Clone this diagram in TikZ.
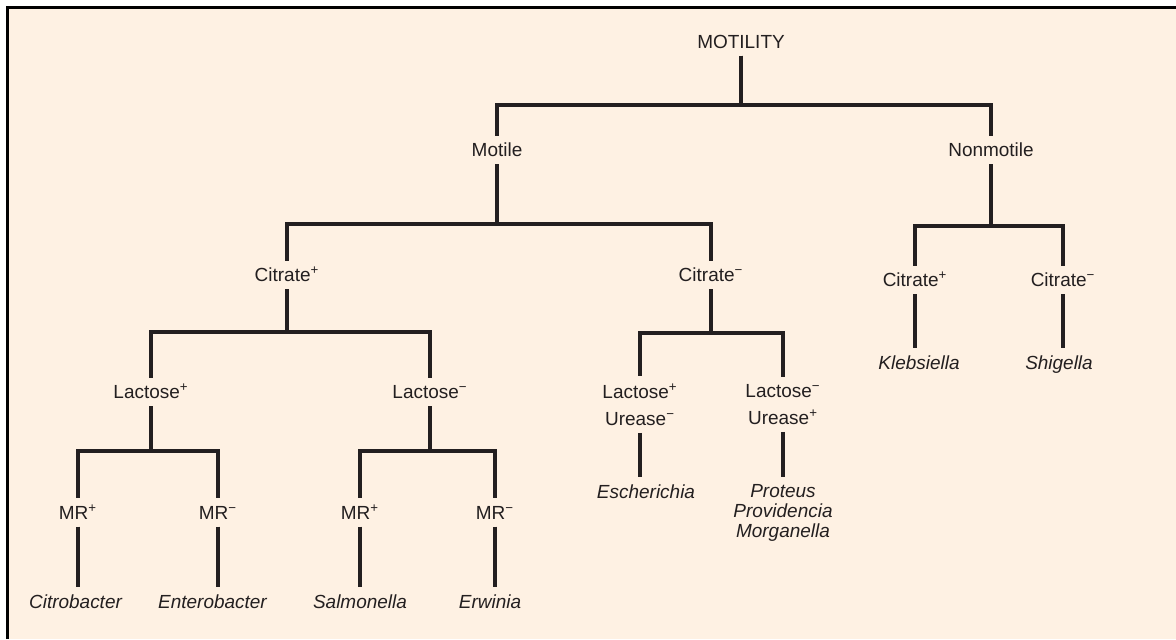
\documentclass[tikz,border=0pt]{standalone}
\usepackage{fontspec}
\setmainfont{Liberation Sans}
\usepackage{xcolor}
\usepackage{tikz}
\definecolor{keypaper}{RGB}{254,241,227}
\definecolor{keyink}{RGB}{35,31,32}
\newcommand{\sgnp}{\textsuperscript{+}}
\newcommand{\sgnm}{\textsuperscript{−}}
\tikzset{
  test/.style={font=\fontsize{10.8pt}{13pt}\selectfont, text=keyink,
    inner xsep=1pt, inner ysep=3.98pt, text height=7.7pt, text depth=0pt},
  genus/.style={test, font=\fontsize{10.8pt}{13pt}\selectfont\itshape},
  teststack/.style={font=\fontsize{10.8pt}{15.36pt}\selectfont, text=keyink,
    align=center, inner xsep=1pt, inner ysep=3.98pt},
  genusstack/.style={teststack, font=\fontsize{10.8pt}{11.38pt}\selectfont\itshape},
  branch/.style={draw=keyink, line width=1.9pt},
  frame/.style={draw=black, line width=1.7pt},
}

\begin{document}
\begin{tikzpicture}[x=0.02cm, y=-0.02cm]
  \useasboundingbox (0,0) rectangle (1176,639);
  \fill[keypaper] (7,7) rectangle (1176,639);
  \draw[frame] (7.5,639) -- (7.5,7.5) -- (1176,7.5);

  \node[test] (motility) at (741,41.5) {MOTILITY};
  \node[test] (motile) at (497,150) {Motile};
  \node[test] (nonmotile) at (991,150) {Nonmotile};
  \node[test] (citP) at (287,275) {Citrate\sgnp};
  \node[test] (citM) at (711,275) {Citrate\sgnm};
  \node[test] (nmCitP) at (915,280) {Citrate\sgnp};
  \node[test] (nmCitM) at (1063,280) {Citrate\sgnm};
  \node[test] (lacP) at (151,392) {Lactose\sgnp};
  \node[test] (lacM) at (430,392) {Lactose\sgnm};
  \node[teststack] (ureM) at (640,404.5) {Lactose\sgnp\\Urease\sgnm};
  \node[teststack] (ureP) at (783,404.5) {Lactose\sgnm\\Urease\sgnp};
  \node[test] (mrA) at (78,512.5) {MR\sgnp};
  \node[test] (mrB) at (218,512.5) {MR\sgnm};
  \node[test] (mrC) at (360,512.5) {MR\sgnp};
  \node[test] (mrD) at (495,512.5) {MR\sgnm};

  \node[genus] (citrobacter) at (75.5,601.5) {Citrobacter};
  \node[genus] (enterobacter) at (212.5,601.5) {Enterobacter};
  \node[genus] (salmonella) at (360,601.5) {Salmonella};
  \node[genus] (erwinia) at (490,601.5) {Erwinia};
  \node[genus] (escherichia) at (646,491.5) {Escherichia};
  \node[genusstack] (proteus) at (783,513) {Proteus\\Providencia\\Morganella};
  \node[genus] (klebsiella) at (919,362.5) {Klebsiella};
  \node[genus] (shigella) at (1059,362.5) {Shigella};

  \coordinate (fA) at (741,105);
  \coordinate (fB) at (497,224);
  \coordinate (fC) at (991,226);
  \coordinate (fD) at (287,332);
  \coordinate (fE) at (711,333);
  \coordinate (fF) at (151,451);
  \coordinate (fG) at (430,451);

  \foreach \p/\f/\c in {motility/fA/motile, motility/fA/nonmotile,
      motile/fB/citP, motile/fB/citM, nonmotile/fC/nmCitP, nonmotile/fC/nmCitM,
      citP/fD/lacP, citP/fD/lacM, citM/fE/ureM, citM/fE/ureP,
      lacP/fF/mrA, lacP/fF/mrB, lacM/fG/mrC, lacM/fG/mrD} {
    \draw[branch] (\p) -- (\f) -| (\c);
  }
  \foreach \p/\c in {mrA/citrobacter, mrB/enterobacter, mrC/salmonella,
      mrD/erwinia, ureM/escherichia, ureP/proteus, nmCitP/klebsiella,
      nmCitM/shigella} {
    \draw[branch] (\p.south) -- (\p.south |- \c.north);
  }
\end{tikzpicture}
\end{document}
